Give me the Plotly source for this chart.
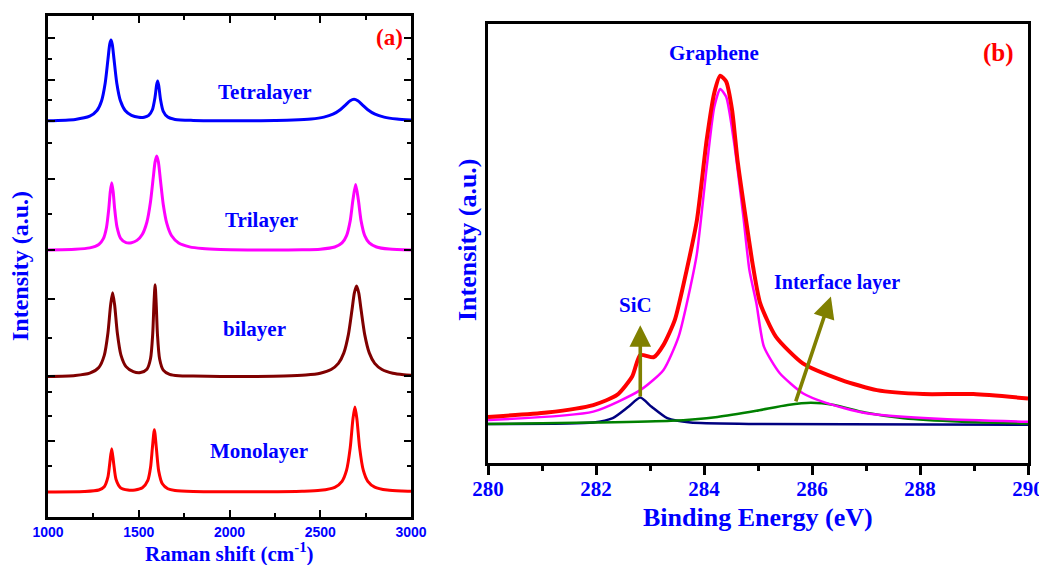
import plotly.graph_objects as go

# ---------------- Panel (a): Raman spectra ----------------
mono_x = [1000,1200,1280,1310,1330,1340,1351,1362,1375,1400,1440,1480,1520,1550,1565,1575,1586,1597,1610,1630,
          1660,1700,1800,2000,2200,2400,2500,2580,2620,2645,2665,2680,2691,2702,2717,2737,2762,2800,2870,2950,3000]
mono_y = [0.01,0.05,0.2,0.53,1.48,2.83,4.33,2.84,1.25,0.42,0.2,0.21,0.42,1.16,2.47,4.39,6.22,4.39,2.09,0.82,
          0.33,0.15,0.05,0.03,0.03,0.08,0.17,0.47,1.07,2.18,4.41,7.29,8.5,7.29,4.41,2.18,1.07,0.49,0.19,0.09,0.07]

bi_x = [1000,1150,1230,1280,1310,1330,1345,1356,1367,1382,1402,1430,1470,1510,1545,1565,1577,1584,1590,1596,
        1603,1615,1635,1670,1720,1800,1950,2150,2300,2420,2500,2560,2600,2630,2655,2675,2688,2700,2712,2725,
        2745,2770,2800,2840,2900,2960,3000]
bi_y = [0.05,0.15,0.38,0.95,2.16,4.37,7.21,8.42,7.23,4.4,2.19,1.04,0.54,0.45,0.78,1.85,4.33,7.42,9.23,7.4,
        4.3,1.8,0.69,0.26,0.12,0.09,0.05,0.06,0.1,0.2,0.38,0.75,1.36,2.41,4.24,6.72,8.41,9.1,8.41,6.72,
        4.24,2.41,1.36,0.75,0.38,0.23,0.18]

tri_x = [1000,1150,1230,1280,1305,1322,1335,1343,1351,1359,1367,1380,1400,1430,1460,1490,1520,1545,1565,1580,
         1590,1599,1608,1620,1635,1655,1680,1720,1780,1850,1950,2100,2250,2400,2500,2580,2620,2645,2665,2680,
         2695,2710,2725,2745,2770,2810,2880,3000]
tri_y = [0.05,0.12,0.26,0.6,1.18,2.28,4.18,5.86,6.78,5.88,4.22,2.36,1.22,0.79,0.78,1.01,1.63,2.85,4.9,7.31,
         8.86,9.45,8.87,6.95,4.61,2.68,1.5,0.75,0.36,0.19,0.1,0.06,0.05,0.07,0.13,0.35,0.76,1.49,2.96,5.04,
         6.6,5.04,2.96,1.49,0.76,0.35,0.14,0.05]

tetra_x = [1000,1150,1230,1270,1295,1315,1330,1340,1347,1354,1364,1379,1399,1425,1460,1500,1530,1555,1575,1590,
           1598,1604,1610,1620,1635,1660,1700,1800,1950,2100,2250,2350,2450,2520,2570,2610,2640,2665,2686,2707,
           2732,2762,2802,2852,2922,3000]
tetra_y = [0.06,0.19,0.51,1.08,2.03,3.8,6.14,7.69,8.12,7.7,6.15,3.81,2.05,1.08,0.59,0.4,0.41,0.59,1.15,2.45,
           3.59,4.02,3.58,2.18,1.0,0.42,0.19,0.09,0.05,0.05,0.08,0.12,0.23,0.42,0.71,1.16,1.65,2.06,2.2,2.06,
           1.65,1.16,0.71,0.42,0.23,0.13]

raman_names = ["Monolayer", "bilayer", "Trilayer", "Tetralayer"]
raman_offsets = [2.5, 14.0, 26.65, 39.57]
raman_colors = ["#ff0000", "#800000", "#ff00ff", "#0000ff"]
raman_label_x = [2161, 2140, 2177, 2198]
raman_label_y = [6.58, 18.77, 29.7, 42.53]

left_xticks = [1000, 1500, 2000, 2500, 3000]
left_y_major = [47.9, 43.7, 39.6, 33.8, 26.7, 21.8, 14.1, 7.6]
left_y_minor = [45.8, 41.7, 37.4, 30.3, 17.9, 12.5, 10.1, 5.1]

# ---------------- Panel (b): XPS C1s ----------------
red_x = [280,281.09,281.95,282.39,282.67,282.82,283.07,283.25,283.46,283.68,
         283.87,284.05,284.19,284.3,284.41,284.52,284.62,284.77,284.91,285.04,
         285.33,285.83,286.55,287.2,288.06,288.99,290]
red_y = [10.5,11.5,13.2,15.5,19.7,24.6,24.1,26.9,32.6,44.0,
         55.4,73.6,84.3,88.2,86.9,80.4,69.0,56.0,44.6,36.4,
         28.8,22.7,18.9,16.6,15.7,15.7,14.7]

mag_x = [280,281.95,282.82,283.25,283.53,283.75,283.87,284.05,284.19,284.3,284.41,284.55,284.73,284.84,
         284.97,285.11,285.4,285.83,286.26,286.98,288.42,290]
mag_y = [9.8,11.7,16.6,21.2,28.8,40.2,47.8,67.4,81.1,85.2,83.4,73.6,56.0,44.0,
         36.4,26.5,20.5,15.9,13.7,11.4,10.0,9.4]

sic_x = [280,281.95,282.31,282.6,282.82,283.03,283.32,283.75,284.83,290]
sic_y = [8.9,9.2,10.2,12.8,14.9,12.8,10.2,9.2,8.9,8.7]

int_x = [280,281.95,283.39,284.25,284.97,285.55,285.98,286.41,286.98,287.7,288.78,290]
int_y = [8.9,9.2,9.6,10.5,11.9,13.2,13.7,13.2,11.5,10.2,9.4,9.0]

right_xticks = [280, 282, 284, 286, 288, 290]

# arrows: (tail_x, tail_y, tip_x, tip_y)
sic_arrow = (282.82, 14.8, 282.82, 31.4)
int_arrow = (285.69, 13.7, 286.35, 37.9)

SERIF = "Liberation Serif, Times New Roman, serif"
SANS = "Liberation Sans, Arial, sans-serif"
BLUE = "#0000ff"

# page body adds an 8px offset; figure is sized so it still fills the window
OX, OY = 8, 8
FW, FH = 1047 - OX, 565 - OY


def px(x):
    return (x - OX) / FW


def py(y):
    return 1 - (y - OY) / FH


fig = go.Figure()

raman_data = [(mono_x, mono_y), (bi_x, bi_y), (tri_x, tri_y), (tetra_x, tetra_y)]
for (xs, ys), off, col, name in zip(raman_data, raman_offsets, raman_colors, raman_names):
    fig.add_trace(go.Scatter(x=xs, y=[v + off for v in ys], mode="lines", name=name,
                             line=dict(color=col, width=3, shape="spline", smoothing=0.7),
                             xaxis="x", yaxis="y", hoverinfo="skip"))

for xs, ys, col, w, name in [(sic_x, sic_y, "#000080", 2.5, "SiC"),
                             (int_x, int_y, "#008000", 2.5, "Interface layer"),
                             (mag_x, mag_y, "#ff00ff", 2.5, "Graphene"),
                             (red_x, red_y, "#ff0000", 4, "Envelope")]:
    fig.add_trace(go.Scatter(x=xs, y=ys, mode="lines", name=name,
                             line=dict(color=col, width=w, shape="spline", smoothing=0.6),
                             xaxis="x2", yaxis="y2", hoverinfo="skip"))

C = dict(xanchor="center", yanchor="middle", showarrow=False)
annotations = []
for name, lx, ly in zip(raman_names, raman_label_x, raman_label_y):
    annotations.append(dict(x=lx, y=ly, xref="x", yref="y", text=name, **C,
                            font=dict(family=SERIF, size=21, color=BLUE, weight="bold")))
annotations.append(dict(x=2884, y=47.97, xref="x", yref="y", text="(a)", **C,
                        font=dict(family=SERIF, size=23, color="#ff0000", weight="bold")))
annotations.append(dict(x=289.45, y=93.3, xref="x2", yref="y2", text="(b)", **C,
                        font=dict(family=SERIF, size=25, color="#ff0000", weight="bold")))
annotations.append(dict(x=284.18, y=93.3, xref="x2", yref="y2", text="Graphene", **C,
                        font=dict(family=SERIF, size=21, color=BLUE, weight="bold")))
annotations.append(dict(x=282.74, y=36.0, xref="x2", yref="y2", text="SiC", **C,
                        font=dict(family=SERIF, size=21, color=BLUE, weight="bold")))
annotations.append(dict(x=286.46, y=41.07, xref="x2", yref="y2", text="Interface layer", **C,
                        font=dict(family=SERIF, size=20, color=BLUE, weight="bold")))
for tx, ty, hx, hy in [sic_arrow, int_arrow]:
    annotations.append(dict(x=hx, y=hy, ax=tx, ay=ty, xref="x2", yref="y2", axref="x2", ayref="y2",
                            text="", showarrow=True, arrowhead=2, arrowsize=1.2, arrowwidth=3.6,
                            arrowcolor="#808000", standoff=0, startstandoff=0))
# axis titles
annotations.append(dict(x=px(229.5), y=py(552), xref="paper", yref="paper",
                        text="Raman shift (cm<sup>-1</sup>)", **C,
                        font=dict(family=SERIF, size=21, color=BLUE, weight="bold")))
annotations.append(dict(x=px(20), y=py(266), xref="paper", yref="paper", textangle=-90,
                        text="Intensity (a.u.)", **C,
                        font=dict(family=SERIF, size=24, color=BLUE, weight="bold")))
annotations.append(dict(x=px(758), y=py(517), xref="paper", yref="paper",
                        text="Binding Energy (eV)", **C,
                        font=dict(family=SERIF, size=26, color=BLUE, weight="bold")))
annotations.append(dict(x=px(468), y=py(240), xref="paper", yref="paper", textangle=-90,
                        text="Intensity (a.u.)", **C,
                        font=dict(family=SERIF, size=26, color=BLUE, weight="bold")))

fig.update_layout(
    width=FW, height=FH, margin=dict(l=0, r=0, t=0, b=0, pad=0, autoexpand=False),
    paper_bgcolor="white", plot_bgcolor="white", showlegend=False,
    annotations=annotations,
    xaxis=dict(domain=[px(48), px(411)], range=[1000, 3000], anchor="y", automargin=False,
               tickmode="array", tickvals=left_xticks, ticktext=[str(v) for v in left_xticks],
               ticks="inside", ticklen=7, tickwidth=2, tickcolor="black",
               showline=True, linewidth=2.5, linecolor="black", mirror="ticks",
               showgrid=False, zeroline=False,
               tickfont=dict(family=SANS, size=14, color=BLUE, weight="bold"),
               minor=dict(dtick=250, tick0=1000, ticks="inside", ticklen=4, tickwidth=2,
                          tickcolor="black", showgrid=False)),
    yaxis=dict(domain=[py(517), py(16)], range=[0, 50.1], anchor="x", automargin=False,
               tickmode="array", tickvals=left_y_major, showticklabels=False,
               ticks="inside", ticklen=7, tickwidth=2, tickcolor="black",
               showline=True, linewidth=2.5, linecolor="black", mirror="ticks",
               showgrid=False, zeroline=False,
               minor=dict(tickmode="array", tickvals=left_y_minor, ticks="inside", ticklen=4,
                          tickwidth=2, tickcolor="black", showgrid=False)),
    xaxis2=dict(domain=[px(488), px(1028)], range=[280, 290], anchor="y2", automargin=False,
                tickmode="array", tickvals=right_xticks, ticktext=[str(v) for v in right_xticks],
                ticks="outside", ticklen=9, tickwidth=2.5, tickcolor="black",
                showline=True, linewidth=3, linecolor="black", mirror=True,
                showgrid=False, zeroline=False, ticklabelstandoff=-4,
                tickfont=dict(family=SERIF, size=21, color=BLUE, weight="bold"),
                minor=dict(dtick=1, tick0=280, ticks="outside", ticklen=5, tickwidth=2.5,
                           tickcolor="black", showgrid=False)),
    yaxis2=dict(domain=[py(463), py(24)], range=[0, 100], anchor="x2", automargin=False,
                showticklabels=False, ticks="",
                showline=True, linewidth=3, linecolor="black", mirror=True,
                showgrid=False, zeroline=False),
)

fig.write_html("out.html")
